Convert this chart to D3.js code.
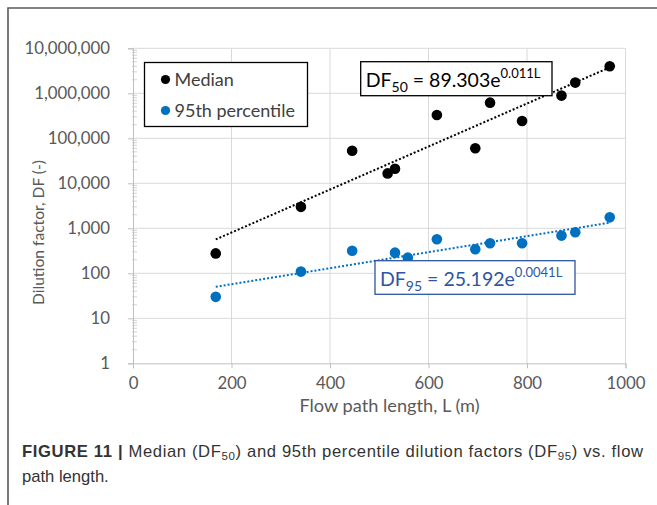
<!DOCTYPE html>
<html>
<head>
<meta charset="utf-8">
<script src="https://cdn.jsdelivr.net/npm/d3@7"></script>
<style>
  body { margin: 0; background: #fff; }
  svg { display: block; }
</style>
</head>
<body>
<div id="chart"></div>
<script>
// data
var medianL  = [168, 341, 445, 517, 532, 617, 695, 725, 790, 870, 898, 968];
var medianDF = [277, 3000, 53000, 16600, 21000, 330000, 60000, 620000, 242000, 890000, 1730000, 4000000];
var p95L     = [168, 341, 445, 532, 558, 617, 695, 725, 790, 870, 898, 968];
var p95DF    = [30, 109, 318, 288, 223, 572, 342, 464, 464, 688, 818, 1750];

// fitted trendlines as printed on the chart: DF = a * exp(b * L)
var fit50 = [89.303, 0.011];
var fit95 = [25.192, 0.0041];

var xTicks = [0, 200, 400, 600, 800, 1000];
var yTicks = [1, 10, 100, 1000, 10000, 100000, 1000000, 10000000];

var svgWidth = 657, svgHeight = 505;

var svg = d3.select("#chart").append("svg")
    .attr("width", svgWidth)
    .attr("height", svgHeight);

var x = d3.scaleLinear().domain([0, 1000]).range([133, 625.5]);
var y = d3.scaleLog().domain([1, 1e7]).range([363.3, 48.3]);

var gray = "#595959";
var blue = "#0070c0";
var font = "Lato, 'Open Sans', sans-serif";

// outer frame (top and left rules)
svg.append("path")
    .attr("d", "M8,505 V8 H657")
    .attr("fill", "none")
    .attr("stroke", "#5a5a5a")
    .attr("stroke-width", 1.6);

// gridlines
var grid = svg.append("g").attr("stroke", "#d9d9d9").attr("stroke-width", 1);
grid.selectAll(".gy").data(yTicks.slice(1)).enter().append("line")
    .attr("x1", x(0)).attr("x2", x(1000))
    .attr("y1", d => y(d)).attr("y2", d => y(d));
grid.selectAll(".gx").data(xTicks.slice(1)).enter().append("line")
    .attr("y1", y(1)).attr("y2", y(1e7))
    .attr("x1", d => x(d)).attr("x2", d => x(d));

// y axis with log minor ticks
var yAxis = d3.axisLeft(y)
    .tickValues(yTicks)
    .tickFormat(d3.format(","))
    .tickSize(5)
    .tickPadding(18);
var gy = svg.append("g")
    .attr("transform", `translate(${x(0)},0)`)
    .call(yAxis);
gy.select(".domain").attr("stroke", "#bfbfbf");
gy.selectAll(".tick line").attr("stroke", "#bfbfbf");
gy.selectAll("text")
    .attr("fill", gray)
    .style("font", `16.8px ${font}`);

var minor = [];
yTicks.slice(0, -1).forEach(function(d) {
    for (var k = 2; k <= 9; k++) minor.push(d * k);
});
svg.append("g").selectAll("line").data(minor).enter().append("line")
    .attr("x1", x(0) - 1).attr("x2", x(0) + 4)
    .attr("y1", d => y(d)).attr("y2", d => y(d))
    .attr("stroke", "#c8c8c8").attr("stroke-width", 0.8);

// x axis
var xAxis = d3.axisBottom(x)
    .tickValues(xTicks)
    .tickFormat(d3.format("d"))
    .tickSize(5)
    .tickPadding(9);
var gx = svg.append("g")
    .attr("transform", `translate(0,${y(1)})`)
    .call(xAxis);
gx.select(".domain").attr("stroke", "#bfbfbf");
gx.selectAll(".tick line").attr("stroke", "#bfbfbf");
gx.selectAll("text")
    .attr("fill", gray)
    .style("font", `16.8px ${font}`);

// axis titles
svg.append("text")
    .attr("x", 389.5).attr("y", 412)
    .attr("text-anchor", "middle")
    .attr("fill", gray)
    .style("font", `18.2px ${font}`)
    .text("Flow path length, L (m)");

svg.append("text")
    .attr("transform", "translate(43.5,232.5) rotate(-90)")
    .attr("text-anchor", "middle")
    .attr("fill", gray)
    .style("font", `15.6px ${font}`)
    .text("Dilution factor, DF (-)");

// trendlines from the printed equations
function trend(fit, ls, color) {
    var ends = d3.extent(ls).map(l => [l, fit[0] * Math.exp(fit[1] * l)]);
    svg.append("path")
        .datum(ends)
        .attr("d", d3.line().x(d => x(d[0])).y(d => y(d[1])))
        .attr("fill", "none")
        .attr("stroke", color)
        .attr("stroke-width", 2)
        .attr("stroke-dasharray", "2,2");
}
trend(fit50, medianL, "#000");
trend(fit95, p95L, blue);

// points
function dots(ls, vals, color) {
    svg.append("g").selectAll("circle")
        .data(ls.map((l, i) => [l, vals[i]]))
        .enter().append("circle")
        .attr("cx", d => x(d[0]))
        .attr("cy", d => y(d[1]))
        .attr("r", 5.3)
        .attr("fill", color);
}
dots(medianL, medianDF, "#000");
dots(p95L, p95DF, blue);

// legend
var legend = svg.append("g");
legend.append("rect")
    .attr("x", 144.5).attr("y", 62.5)
    .attr("width", 163).attr("height", 64)
    .attr("fill", "#fff")
    .attr("stroke", "#000")
    .attr("stroke-width", 1.3);
[["Median", "#000", 79.5], ["95th percentile", blue, 110.5]].forEach(function(d) {
    legend.append("circle").attr("cx", 165.5).attr("cy", d[2]).attr("r", 4.6).attr("fill", d[1]);
    legend.append("text")
        .attr("x", 174.5).attr("y", d[2] + 6.5)
        .attr("fill", "#404040")
        .style("font", `18px ${font}`)
        .text(d[0]);
});

// equation labels
function equation(bx, by, bw, bh, color, sub, coef, expo) {
    var g = svg.append("g");
    g.append("rect")
        .attr("x", bx).attr("y", by)
        .attr("width", bw).attr("height", bh)
        .attr("fill", "#fff")
        .attr("stroke", color)
        .attr("stroke-width", 1.3);
    var t = g.append("text")
        .attr("x", bx + 5).attr("y", by + 25)
        .attr("fill", color)
        .style("font", `19.5px ${font}`);
    t.append("tspan").text("DF");
    t.append("tspan").attr("dy", 5).style("font-size", "14px").text(sub);
    t.append("tspan").attr("dy", -5).text(" = " + coef + "e");
    t.append("tspan").attr("dy", -9).style("font-size", "13px").text(expo);
}
equation(360.7, 61.7, 191.3, 34, "#000", "50", "89.303", "0.011L");
equation(375, 260.7, 200, 33.6, "#2f55a0", "95", "25.192", "0.0041L");

// caption
var cap = svg.append("g")
    .attr("fill", "#333")
    .style("font", "16.6px 'Liberation Sans', Arial, sans-serif");
var line1 = cap.append("text").attr("x", 22).attr("y", 457)
    .attr("textLength", 621)
    .attr("lengthAdjust", "spacing");
line1.append("tspan").style("font-weight", "bold").text("FIGURE 11 | ");
line1.append("tspan").text("Median (DF");
line1.append("tspan").attr("dy", 3).style("font-size", "11.5px").text("50");
line1.append("tspan").attr("dy", -3).text(") and 95th percentile dilution factors (DF");
line1.append("tspan").attr("dy", 3).style("font-size", "11.5px").text("95");
line1.append("tspan").attr("dy", -3).text(") vs. flow");
cap.append("text").attr("x", 22).attr("y", 482).text("path length.");
</script>
</body>
</html>
